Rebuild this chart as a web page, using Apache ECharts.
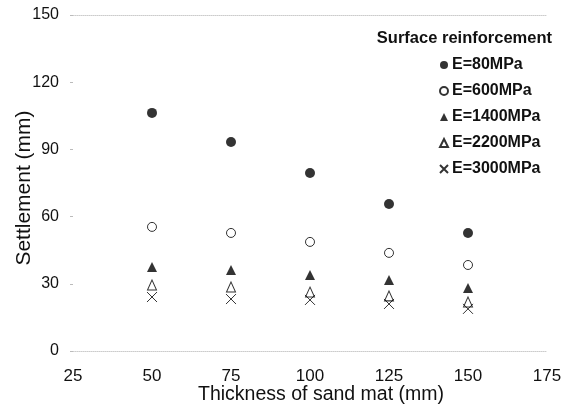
<!DOCTYPE html>
<html>
<head>
<meta charset="utf-8">
<script src="https://cdn.jsdelivr.net/npm/echarts@6/dist/echarts.min.js"></script>
<style>
  html, body { margin: 0; padding: 0; background: #fff; }
  #chart { width: 571px; height: 409px; }
</style>
</head>
<body>
<div id="chart"></div>
<script>
const thickness = [50, 75, 100, 125, 150];
const seriesNames = ['E=80MPa', 'E=600MPa', 'E=1400MPa', 'E=2200MPa', 'E=3000MPa'];
const e80 = [106.3, 93.3, 79.5, 65.6, 52.7];
const e600 = [55.4, 52.7, 48.7, 43.8, 38.4];
const e1400 = [37.5, 36.2, 33.9, 31.7, 28.1];
const e2200 = [29.5, 28.6, 26.3, 24.6, 21.9];
const e3000 = [24.1, 23.2, 22.8, 21.0, 18.8];

const font = "'Liberation Sans', Arial, sans-serif";
const crossPath = 'path://M0,0L10,10M10,0L0,10';

const pairs = (ys) => thickness.map((x, i) => [x, ys[i]]);

const chart = echarts.init(document.getElementById('chart'));

const option = {
  backgroundColor: '#fff',
  animation: false,
  title: {
    text: 'Surface reinforcement',
    right: 14,
    top: 25,
    textStyle: { fontFamily: font, fontSize: 16.5, fontWeight: 'bold', color: '#111' }
  },
  legend: {
    data: seriesNames,
    orient: 'vertical',
    left: 434,
    top: 52,
    itemWidth: 8,
    itemHeight: 8,
    itemGap: 10,
    textStyle: { fontFamily: font, fontSize: 16, fontWeight: 'bold', color: '#111', padding: [0, 0, 0, -1] }
  },
  grid: { left: 73, right: 24, top: 15, bottom: 58, outerBoundsMode: 'none' },
  xAxis: [
    {
      type: 'value',
      min: 25,
      max: 175,
      interval: 25,
      name: 'Thickness of sand mat (mm)',
      nameLocation: 'middle',
      nameGap: 34,
      nameMoveOverlap: false,
      nameTextStyle: { fontFamily: font, fontSize: 19.5, color: '#111', padding: [0, 0, 0, 22] },
      axisLine: { show: true, lineStyle: { color: '#ccc', type: 'dotted', width: 1 } },
      axisTick: { show: false },
      axisLabel: { fontFamily: font, fontSize: 17, color: '#111', margin: 17 },
      splitLine: { show: false }
    },
    {
      type: 'value',
      position: 'top',
      min: 25,
      max: 175,
      interval: 25,
      axisLine: { show: true, lineStyle: { color: '#ccc', type: 'dotted', width: 1 } },
      axisTick: { show: false },
      axisLabel: { show: false },
      splitLine: { show: false }
    }
  ],
  yAxis: {
    type: 'value',
    min: 0,
    max: 150,
    interval: 30,
    name: 'Settlement (mm)',
    nameLocation: 'middle',
    nameGap: 38,
    nameMoveOverlap: false,
    nameTextStyle: { fontFamily: font, fontSize: 21, color: '#111', padding: [0, 10, 0, 0] },
    axisLine: { show: false },
    axisTick: { show: true, length: 3, lineStyle: { color: '#bbb' } },
    axisLabel: { fontFamily: font, fontSize: 16, color: '#111', margin: 14 },
    splitLine: { show: false }
  },
  series: [
    {
      name: seriesNames[0],
      type: 'scatter',
      data: pairs(e80),
      symbol: 'circle',
      symbolSize: 10,
      itemStyle: { color: '#000' }
    },
    {
      name: seriesNames[1],
      type: 'scatter',
      data: pairs(e600),
      symbol: 'circle',
      symbolSize: 9,
      itemStyle: { color: '#fff', borderColor: '#000', borderWidth: 1 }
    },
    {
      name: seriesNames[2],
      type: 'scatter',
      data: pairs(e1400),
      symbol: 'triangle',
      symbolSize: 10,
      itemStyle: { color: '#000' }
    },
    {
      name: seriesNames[3],
      type: 'scatter',
      data: pairs(e2200),
      symbol: 'triangle',
      symbolSize: [9, 10],
      itemStyle: { color: 'rgba(255,255,255,0)', borderColor: '#000', borderWidth: 1 }
    },
    {
      name: seriesNames[4],
      type: 'scatter',
      data: pairs(e3000),
      symbol: crossPath,
      symbolSize: 10,
      itemStyle: { color: 'rgba(255,255,255,0)', borderColor: '#000', borderWidth: 1 }
    }
  ]
};

chart.setOption(option);
</script>
</body>
</html>
